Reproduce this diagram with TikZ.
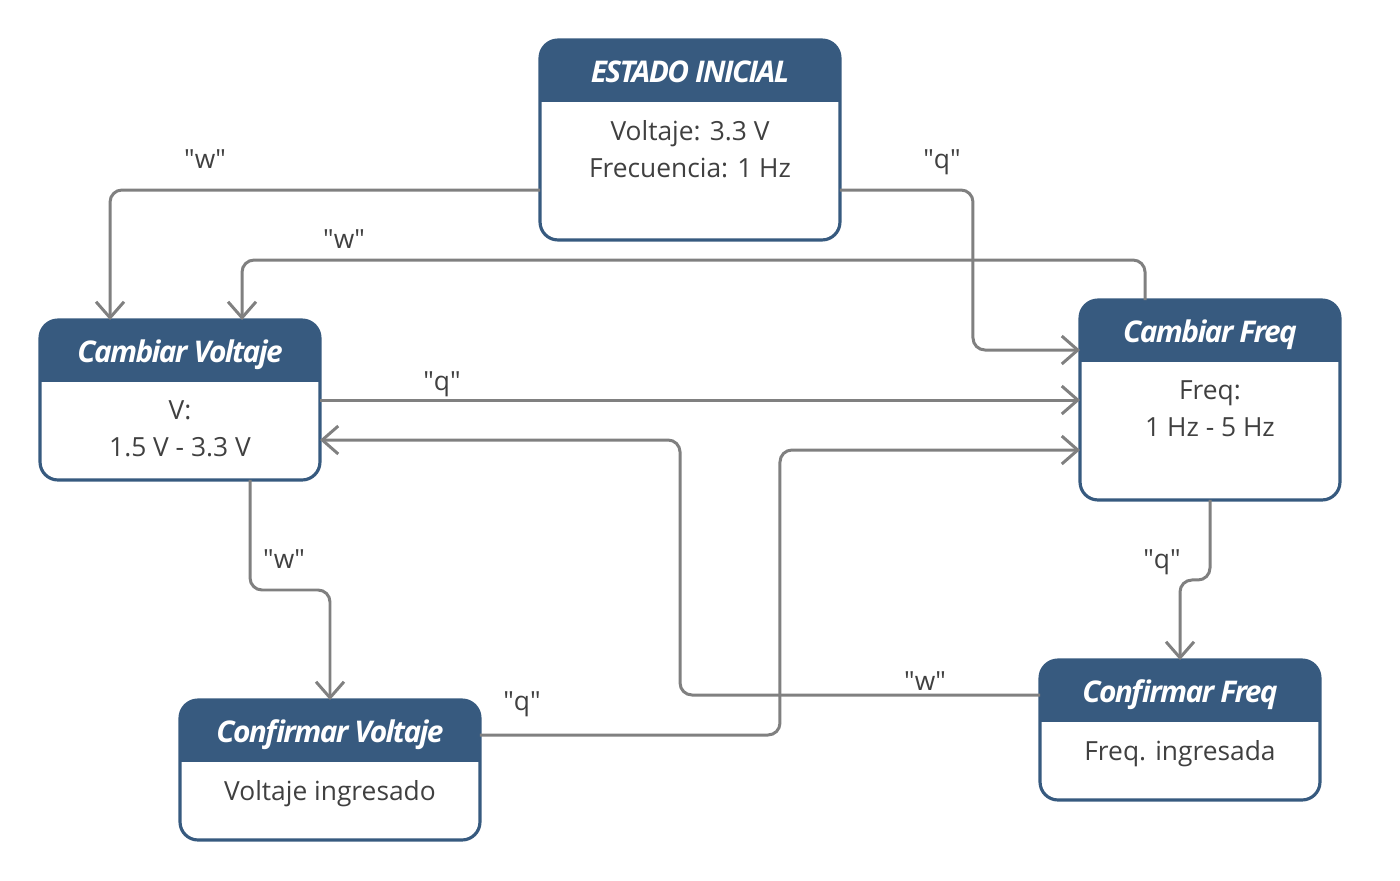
\documentclass[tikz,border=0pt]{standalone}
\usepackage{fontspec}
\setmainfont{Open Sans}
\newfontfamily\titlefont{Open Sans}[LetterSpace=-5.5]
\usepackage{xcolor}
\usepackage{tikz}
\usetikzlibrary{arrows.meta,positioning,calc}

\definecolor{hdrblue}{HTML}{375A7F}
\definecolor{linkgray}{HTML}{808080}
\definecolor{txtgray}{HTML}{404040}

\tikzset{
  statebox/.style={rectangle, inner sep=0pt, outer sep=0pt},
  boxline/.style={draw=hdrblue, line width=1.8pt, rounded corners=0.36cm},
  titletxt/.style={font=\titlefont\fontsize{17}{20}\selectfont\bfseries\itshape, text=white, anchor=base},
  bodytxt/.style={font=\fontsize{15}{21}\selectfont, text=txtgray, align=center, anchor=north, inner sep=0pt},
  lbl/.style={font=\fontsize{15}{18}\selectfont, text=txtgray, anchor=base},
  link/.style={draw=linkgray, line width=1.7pt, rounded corners=0.24cm,
    -{Straight Barb[length=0.32cm,width=0.56cm]}}
}

\begin{document}
\begin{tikzpicture}[x=0.02cm, y=-0.02cm]
\useasboundingbox (0,0) rectangle (1400,880);
% state boxes: name / centre (px) / size / title / body
\foreach \n/\cx/\cy/\w/\h/\t/\b in {
    ini/690/140/6cm/4cm/{ESTADO INICIAL}/{Voltaje: 3.3 V\\Frecuencia: 1 Hz},
    cv/180/400/5.6cm/3.2cm/{Cambiar Voltaje}/{V:\\1.5 V - 3.3 V},
    cf/1210/400/5.2cm/4cm/{Cambiar Freq}/{Freq:\\1 Hz - 5 Hz},
    conv/330/770/6cm/2.8cm/{Confirmar Voltaje}/{Voltaje ingresado},
    conf/1180/730/5.6cm/2.8cm/{Confirmar Freq}/{Freq. ingresada}} {
    \node[statebox, minimum width=\w, minimum height=\h] (\n) at (\cx,\cy) {};
    \fill[white, rounded corners=0.36cm] (\n.north west) rectangle (\n.south east);
    \begin{scope}
        \clip[rounded corners=0.36cm] (\n.north west) rectangle (\n.south east);
        \fill[hdrblue] (\n.north west) rectangle ($(\n.north east)+(0,62)$);
    \end{scope}
    \draw[boxline] (\n.north west) rectangle (\n.south east);
    \node[titletxt] (\n-title) at ($(\n.north)+(0,42)$) {\t};
    \node[bodytxt] (\n-body) at ($(\n.north)+(0,80)$) {\b};
}
% transitions
\draw[link] ($(ini.west)+(0,50)$) -| ($(cv.north west)+(70,0)$);
\draw[link] ($(ini.east)+(0,50)$) -- ++(133,0) |- ($(cf.west)+(0,-50)$);
\draw[link] ($(cf.north west)+(65,0)$) -- ++(0,-40) -| ($(cv.north west)+(202,0)$);
\draw[link] (cv.east) -- (cf.west);
\draw[link] ($(conf.west)+(0,-35)$) -- ++(-360,0) |- ($(cv.east)+(0,40)$);
\draw[link] ($(conv.east)+(0,-35)$) -- ++(300,0) |- ($(cf.west)+(0,50)$);
\draw[link] ($(cv.south west)+(210,0)$) -- ++(0,110) -| (conv.north);
\draw[link] (cf.south) -- ++(0,80) -| (conf.north);
% key labels
\foreach \n/\x/\y/\k in {lw1/205/168/w, lq1/942/168/q, lw2/344/248/w, lq2/442/390/q,
    lw3/284/568/w, lq3/1162/568/q, lq4/522/710/q, lw4/925/690/w} {
    \node[lbl] (\n) at (\x,\y) {\textquotedbl\k\textquotedbl};
}
\end{tikzpicture}
\end{document}
